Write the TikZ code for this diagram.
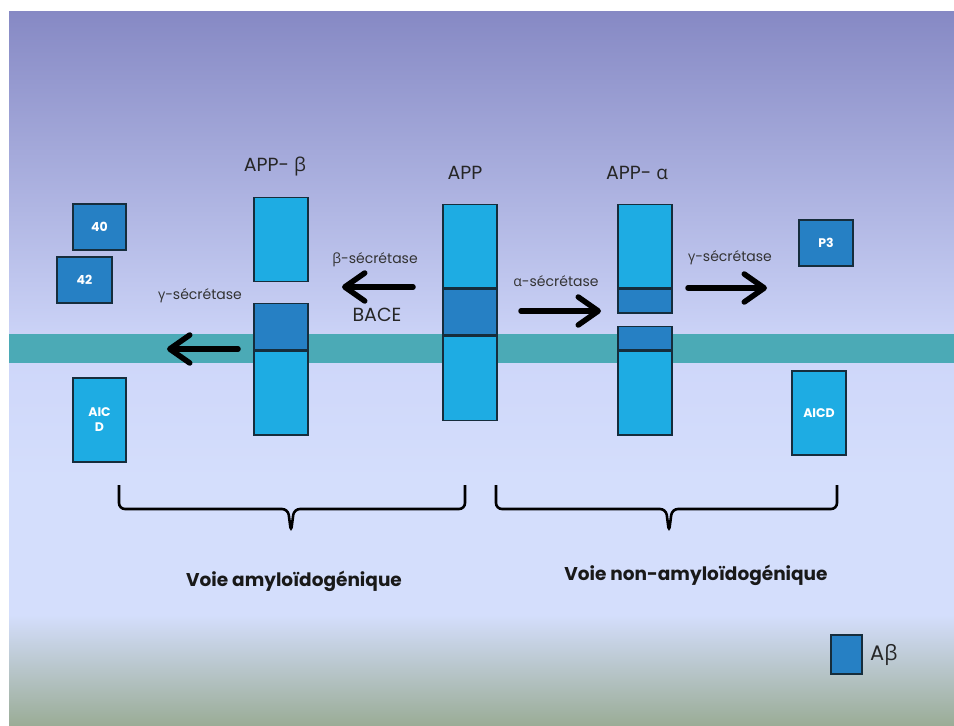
\documentclass[tikz,border=0pt]{standalone}
\usepackage{fontspec}
\setmainfont{Poppins}
\newfontfamily\grk{Open Sans}
\usetikzlibrary{positioning, arrows.meta}
\definecolor{bgtop}{RGB}{134,137,196}
\definecolor{bgmid}{RGB}{206,214,249}
\definecolor{bglight}{RGB}{212,222,252}
\definecolor{bgfoot}{RGB}{154,172,150}
\definecolor{membrane}{RGB}{75,170,182}
\definecolor{appcyan}{RGB}{30,172,227}
\definecolor{abblue}{RGB}{38,128,196}
\definecolor{edge}{RGB}{22,45,60}
\newcommand{\gralpha}{{\grk α}}
\newcommand{\grbeta}{{\grk β}}
\newcommand{\grgamma}{{\grk γ}}

\begin{document}
\begin{tikzpicture}[x=1pt, y=-1pt,
      piece/.style = {draw=edge, line width=1.3pt, inner sep=0pt,
                      minimum width=54pt, anchor=north},
      app/.style   = {piece, fill=appcyan},
      abeta/.style = {piece, fill=abblue},
      prod/.style  = {draw=edge, line width=1.3pt, inner sep=0pt, text=white,
                      font=\fontsize{12.5}{15}\selectfont\bfseries, align=center},
      lbl/.style   = {font=\fontsize{19}{22}\selectfont, text=black!85},
      enz/.style   = {font=\fontsize{14}{16}\selectfont, text=black!80},
      voie/.style  = {font=\fontsize{18.5}{21}\selectfont\bfseries, text=black!90},
      cut/.style   = {line width=5.5pt, line cap=round,
                      -{Straight Barb[length=20pt, width=28pt, round]}},
      brace/.style = {line width=2.6pt, rounded corners=6pt}
    ]
    \useasboundingbox (0,0) rectangle (954,726);
    % fond et membrane
    \shade[top color=bgtop, bottom color=bgmid] (9,11) rectangle (954,350);
    \shade[top color=bgmid, bottom color=bglight] (9,349) rectangle (954,480);
    \fill[bglight] (9,479) rectangle (954,616);
    \shade[top color=bglight, bottom color=bgfoot] (9,615) rectangle (954,726);
    \fill[membrane] (9,334) rectangle (954,363);

    % APP
    \node[app, minimum height=83pt] (appT) at (470,204) {};
    \node[abeta, minimum height=46pt, below=0pt of appT] (appM) {};
    \node[app, minimum height=84pt, below=0pt of appM] (appB) {};
    \node[lbl] (appL) at (465,173) {APP};

    % APP-beta
    \node[app, minimum height=84pt] (betT) at (281,197) {};
    \node[abeta, minimum height=46pt] (betM) at (281,303) {};
    \node[app, minimum height=84pt, below=0pt of betM] (betB) {};
    \node[lbl] (betL) at (275,167) {APP- \grbeta};

    % APP-alpha
    \node[app, minimum height=83pt] (alpT) at (645,204) {};
    \node[abeta, minimum height=24pt, below=0pt of alpT] (alpM) {};
    \node[abeta, minimum height=23pt] (alpN) at (645,326) {};
    \node[app, minimum height=84pt, below=0pt of alpN] (alpB) {};
    \node[lbl] (alpL) at (637,173) {APP- \gralpha};

    % produits
    \node[prod, fill=abblue, minimum width=53pt, minimum height=46pt] (ab40) at (99.5,227) {40};
    \node[prod, fill=abblue, minimum width=55pt, minimum height=46pt] (ab42) at (84.5,280) {42};
    \node[prod, fill=appcyan, minimum width=53pt, minimum height=84pt] (aicdL) at (99.5,420) {AIC\\D};
    \node[prod, fill=abblue, minimum width=54pt, minimum height=46pt] (p3) at (826,243) {P3};
    \node[prod, fill=appcyan, minimum width=54pt, minimum height=84pt] (aicdR) at (819,413) {AICD};

    % coupures
    \coordinate (bsA) at (413,287);
    \coordinate (bsB) at (342,287);
    \coordinate (gsA) at (238,349);
    \coordinate (gsB) at (167,349);
    \coordinate (asA) at (521,311);
    \coordinate (asB) at (601,311);
    \coordinate (gnA) at (688,288);
    \coordinate (gnB) at (767,288);
    \draw[cut] (bsA) -- (bsB);
    \draw[cut] (gsA) -- (gsB);
    \draw[cut] (asA) -- (asB);
    \draw[cut] (gnA) -- (gnB);
    \node[enz] (bsL) at (375,260) {\grbeta-sécrétase};
    \node[lbl] (bace) at (377,315) {BACE};
    \node[enz] (gsL) at (200,296) {\grgamma-sécrétase};
    \node[enz] (asL) at (556,281) {\gralpha-sécrétase};
    \node[enz] (gnL) at (730,258) {\grgamma-sécrétase};

    % accolades
    \draw[brace] (119,485) -- (119,509) -- (288,509) -- (291,532) -- (294,509)
                 -- (465,509) -- (465,485);
    \draw[brace] (496,485) -- (496,509) -- (666,509) -- (669,532) -- (672,509)
                 -- (837,509) -- (837,485);
    \node[voie] (amy) at (294,581) {Voie amyloïdogénique};
    \node[voie] (namy) at (696,575) {Voie non-amyloïdogénique};

    % legende
    \node[prod, fill=abblue, minimum width=31pt, minimum height=39pt] (leg) at (846.5,654.5) {};
    \node[lbl, font=\fontsize{21}{24}\selectfont, right=4pt of leg] (legL) {A\grbeta};
  \end{tikzpicture}
\end{document}
